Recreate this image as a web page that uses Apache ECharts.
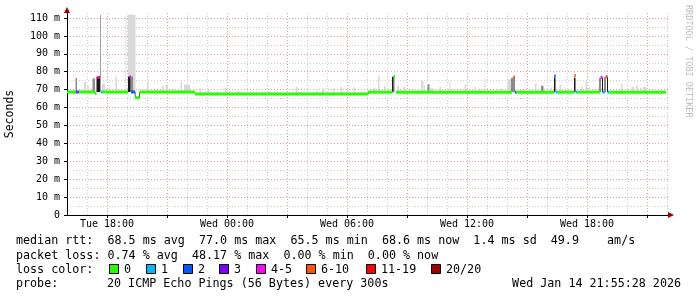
<!DOCTYPE html>
<html><head><meta charset="utf-8">
<script src="https://cdn.jsdelivr.net/npm/echarts@6/dist/echarts.min.js"></script>
<style>html,body{margin:0;padding:0;background:#fff}#c{width:697px;height:297px}</style>
</head><body><div id="c"></div>
<script>
// ---- tick labels (hours counted from Tue 00:00) ----
const xLabelHours = [18, 24, 30, 36, 42];
const xLabelTexts = ['Tue 18:00', 'Wed 00:00', 'Wed 06:00', 'Wed 12:00', 'Wed 18:00'];
const xMajorHours = [18, 21, 24, 27, 30, 33, 36, 39, 42, 45];
const xMinorHours = [17, 19, 20, 22, 23, 25, 26, 28, 29, 31, 32, 34, 35, 37, 38, 40, 41, 43, 44, 46];
const yMajorTicks = [0, 10, 20, 30, 40, 50, 60, 70, 80, 90, 100, 110];
const yMinorTicks = [5, 15, 25, 35, 45, 55, 65, 75, 85, 95, 105];

// ---- loss colour classes ----
const lossLabels = ['0', '1', '2', '3', '4-5', '6-10', '11-19', '20/20'];
const lossColors = ['#26ff00', '#00b8ff', '#0059ff', '#7e00ff', '#ff00ff', '#ff5500', '#ff0000', '#a10000'];

// ---- median rtt steps: [startHour, endHour, ms, lossClass] ----
const medianSteps = [
  [16.00, 16.45, 68.7, 0], [16.45, 16.535, 68.7, 3], [16.535, 16.615, 68.7, 2],
  [16.615, 17.40, 68.7, 0], [17.40, 17.475, 67.9, 0],
  [17.50, 17.575, 76.8, 4], [17.575, 17.65, 76.8, 6], [17.70, 17.785, 68.7, 1],
  [17.785, 19.05, 68.7, 0], [19.125, 19.20, 77.1, 4], [19.20, 19.40, 68.7, 2],
  [19.40, 19.625, 65.5, 0], [19.625, 22.40, 68.7, 0], [22.40, 31.05, 67.5, 0],
  [31.05, 32.27, 68.6, 0], [32.315, 32.40, 77.3, 0], [32.45, 38.25, 68.6, 0],
  [38.32, 38.40, 77.1, 5], [38.40, 38.475, 68.6, 2], [38.475, 40.36, 68.6, 0],
  [40.36, 40.44, 77.6, 2], [40.44, 40.535, 68.6, 1], [40.535, 41.36, 68.6, 0],
  [41.36, 41.44, 77.8, 5], [41.44, 41.525, 68.6, 1], [41.525, 42.65, 68.6, 0],
  [42.68, 42.78, 76.8, 4], [42.78, 42.89, 68.6, 1], [42.93, 43.03, 77.3, 5],
  [43.03, 43.115, 68.6, 1], [43.115, 45.95, 68.6, 0]
];

// ---- smoke: [startHour, endHour, lowMs, highMs] ----
const smokeLight = [
  [16.85, 16.95, 68.7, 74.3], [17.00, 17.085, 68.7, 72.6], [17.75, 17.90, 68.7, 73.3],
  [18.425, 18.50, 68.7, 77.2], [18.925, 18.965, 68.7, 111.7], [19.05, 19.425, 68.7, 111.8],
  [20.00, 20.085, 68.7, 74.6], [20.75, 20.825, 68.7, 72.0], [20.925, 21.05, 68.7, 72.8],
  [21.675, 21.75, 68.7, 74.4], [21.85, 22.15, 68.7, 72.8],
  [22.625, 22.70, 67.5, 70.7], [23.025, 23.15, 67.5, 70.2], [23.45, 23.525, 67.5, 68.9],
  [23.875, 23.95, 67.5, 71.1], [24.10, 24.15, 67.5, 69.0], [24.525, 24.60, 67.5, 69.2],
  [25.45, 25.525, 67.5, 69.0], [25.675, 25.75, 67.5, 68.9], [26.075, 26.15, 67.5, 69.2],
  [27.45, 27.525, 67.5, 71.5], [28.45, 28.55, 67.5, 69.0], [28.75, 28.85, 67.5, 70.7],
  [29.30, 29.375, 67.5, 70.7], [29.675, 29.75, 67.5, 71.6], [30.325, 30.40, 67.5, 71.2],
  [31.00, 31.075, 67.5, 70.7],
  [31.35, 31.425, 68.6, 71.2], [31.55, 31.625, 68.6, 77.7], [31.85, 31.925, 68.6, 72.0],
  [32.525, 32.60, 68.6, 72.2], [32.80, 32.90, 68.6, 71.3], [33.70, 33.825, 68.6, 74.8],
  [33.85, 33.90, 68.6, 72.2], [34.15, 34.30, 68.6, 70.7], [34.625, 34.70, 68.6, 71.5],
  [35.125, 35.175, 68.6, 74.8], [35.875, 35.95, 68.6, 73.2], [36.375, 36.45, 68.6, 71.5],
  [36.60, 36.65, 68.6, 70.7], [36.875, 36.925, 68.6, 76.5], [37.675, 37.75, 68.6, 70.7],
  [38.025, 38.20, 68.6, 75.8], [38.70, 38.75, 68.6, 70.0], [39.40, 39.475, 68.6, 73.5],
  [39.85, 39.90, 68.6, 70.7], [40.20, 40.275, 68.6, 71.4], [40.625, 40.70, 68.6, 72.8],
  [40.90, 40.95, 68.6, 69.5], [41.00, 41.075, 68.6, 69.8], [41.70, 41.775, 68.6, 71.6],
  [41.925, 42.00, 68.6, 74.6], [42.05, 42.125, 68.6, 71.2], [42.20, 42.25, 68.6, 69.5],
  [43.70, 43.775, 68.6, 73.3], [44.225, 44.35, 68.6, 71.6], [44.45, 44.55, 68.6, 72.0],
  [44.65, 44.75, 68.6, 71.0], [44.80, 44.95, 68.6, 71.6], [45.45, 45.50, 68.6, 70.0],
  [45.65, 45.725, 68.6, 70.2]
];
const smokeMid = [
  [16.425, 16.50, 68.7, 76.5], [17.275, 17.40, 68.7, 76.3], [17.65, 17.69, 68.7, 111.7],
  [19.175, 19.30, 68.7, 77.3], [32.325, 32.375, 68.6, 77.2], [34.025, 34.125, 68.6, 73.0],
  [39.70, 39.825, 68.6, 72.2]
];
const smokeDark = [
  [17.475, 17.55, 68.7, 77.2], [17.55, 17.65, 68.7, 76.8], [19.05, 19.175, 68.7, 77.3],
  [19.39, 19.425, 65.5, 68.7], [19.60, 19.635, 65.5, 68.7], [31.05, 31.09, 67.5, 68.6],
  [32.25, 32.325, 68.6, 77.2], [38.225, 38.275, 68.6, 76.7], [38.325, 38.375, 68.6, 77.0],
  [40.35, 40.425, 68.6, 76.7], [41.35, 41.425, 68.6, 76.7], [42.625, 42.675, 68.6, 76.5],
  [42.75, 42.80, 68.6, 76.5], [42.875, 42.925, 68.6, 77.0], [43.00, 43.05, 68.6, 77.0]
];

// ---- legend texts ----
const statLine1 = 'median rtt:  68.5 ms avg  77.0 ms max  65.5 ms min  68.6 ms now  1.4 ms sd  49.9    am/s';
const statLine2 = 'packet loss: 0.74 % avg  48.17 % max  0.00 % min  0.00 % now';
const lossTitle = 'loss color:';
const probeTitle = 'probe:';
const probeText = '20 ICMP Echo Pings (56 Bytes) every 300s';
const stampText = 'Wed Jan 14 21:55:28 2026';
const yTitle = 'Seconds';
const watermark = 'RRDTOOL / TOBI OETIKER';

const MONO = '"DejaVu Sans Mono", monospace';
const chart = echarts.init(document.getElementById('c'), null, {renderer: 'canvas'});

function smokeSeries(data, color, z) {
  return {
    type: 'custom', data: data, z: z, clip: true, silent: true,
    encode: {x: [0, 1], y: [2, 3]},
    renderItem: function (params, api) {
      const a = api.coord([api.value(0), api.value(3)]);
      const b = api.coord([api.value(1), api.value(2)]);
      return {type: 'rect', shape: {x: a[0], y: a[1], width: b[0] - a[0], height: b[1] - a[1]}, style: {fill: color}};
    }
  };
}

const legendItems = [];
const boxX = [109, 146, 183, 219, 256, 306, 366, 431];
lossLabels.forEach(function (lab, i) {
  legendItems.push({type: 'rect', shape: {x: boxX[i] + 0.5, y: 264.5, width: 9, height: 9},
    style: {fill: lossColors[i], stroke: '#000', lineWidth: 1}});
  legendItems.push({type: 'text', x: boxX[i] + 15, y: 269.5,
    style: {text: lab, font: '11.7px ' + MONO, fill: '#000', verticalAlign: 'middle'}});
});

const option = {
  animation: false,
  backgroundColor: '#ffffff',
  grid: {left: 67, top: 13, width: 601, height: 202, containLabel: false},
  xAxis: [{
    type: 'value', min: 16, max: 46.05,
    axisLine: {show: true, lineStyle: {color: '#000', width: 1}},
    axisTick: {show: true, customValues: xMajorHours, length: 3, lineStyle: {color: '#000'}},
    axisLabel: {customValues: xLabelHours, margin: 4, fontFamily: MONO, fontSize: 10, color: '#000',
      formatter: function (v) { return xLabelTexts[xLabelHours.indexOf(Math.round(v))] || ''; }},
    splitLine: {show: true, lineStyle: {color: '#e4a0a0', width: 1, type: [1, 2]}}
  }, {
    type: 'value', min: 16, max: 46.05, position: 'bottom',
    axisLine: {show: false}, axisLabel: {show: false},
    axisTick: {show: false, customValues: xMinorHours},
    splitLine: {show: true, lineStyle: {color: '#cfcfcf', width: 1, type: [1, 2]}}
  }],
  yAxis: [{
    type: 'value', min: 0, max: 112.8,
    axisLine: {show: true, lineStyle: {color: '#000', width: 1}},
    axisTick: {show: true, customValues: yMajorTicks, length: 3, lineStyle: {color: '#000'}},
    axisLabel: {customValues: yMajorTicks, margin: 7, fontFamily: MONO, fontSize: 10, color: '#000',
      formatter: function (v) { return v === 0 ? '0' : v + ' m'; }},
    splitLine: {show: true, lineStyle: {color: '#e4a0a0', width: 1, type: [1, 2]}}
  }, {
    type: 'value', min: 0, max: 112.8, position: 'left',
    axisLine: {show: false}, axisLabel: {show: false},
    axisTick: {show: false, customValues: yMinorTicks},
    splitLine: {show: true, lineStyle: {color: '#cfcfcf', width: 1, type: [1, 2]}}
  }],
  series: [
    smokeSeries(smokeLight, '#d8d8d8', 2),
    smokeSeries(smokeMid, '#8c8c8c', 3),
    smokeSeries(smokeDark, '#1a1a1a', 4),
    {
      type: 'custom', data: medianSteps, z: 5, clip: true, silent: true,
      encode: {x: [0, 1], y: 2},
      renderItem: function (params, api) {
        const a = api.coord([api.value(0), api.value(2)]);
        const b = api.coord([api.value(1), api.value(2)]);
        return {type: 'rect', shape: {x: a[0], y: a[1] - 1.5, width: b[0] - a[0], height: 3},
          style: {fill: lossColors[api.value(3)]}};
      }
    }
  ],
  graphic: [
    {type: 'polygon', shape: {points: [[67, 7], [64, 13], [70, 13]]}, style: {fill: '#a00000'}, z: 10},
    {type: 'polygon', shape: {points: [[674, 215], [668, 212], [668, 218]]}, style: {fill: '#a00000'}, z: 10},
    {type: 'text', x: 10, y: 114, rotation: Math.PI / 2,
      style: {text: yTitle, font: '11.5px ' + MONO, fill: '#000', align: 'center', verticalAlign: 'middle'}},
    {type: 'text', x: 688, y: 5, rotation: -Math.PI / 2,
      style: {text: watermark, font: '8.5px ' + MONO, fill: '#bcbcbc', align: 'left', verticalAlign: 'middle'}},
    {type: 'text', x: 16, y: 241, style: {text: statLine1, font: '11.7px ' + MONO, fill: '#000', verticalAlign: 'middle'}},
    {type: 'text', x: 16, y: 256, style: {text: statLine2, font: '11.7px ' + MONO, fill: '#000', verticalAlign: 'middle'}},
    {type: 'text', x: 16, y: 269.5, style: {text: lossTitle, font: '11.7px ' + MONO, fill: '#000', verticalAlign: 'middle'}},
    {type: 'text', x: 16, y: 284, style: {text: probeTitle, font: '11.7px ' + MONO, fill: '#000', verticalAlign: 'middle'}},
    {type: 'text', x: 107, y: 284, style: {text: probeText, font: '11.7px ' + MONO, fill: '#000', verticalAlign: 'middle'}},
    {type: 'text', x: 681, y: 284, style: {text: stampText, font: '11.7px ' + MONO, fill: '#000', align: 'right', verticalAlign: 'middle'}}
  ].concat(legendItems)
};
chart.setOption(option);
</script></body></html>
